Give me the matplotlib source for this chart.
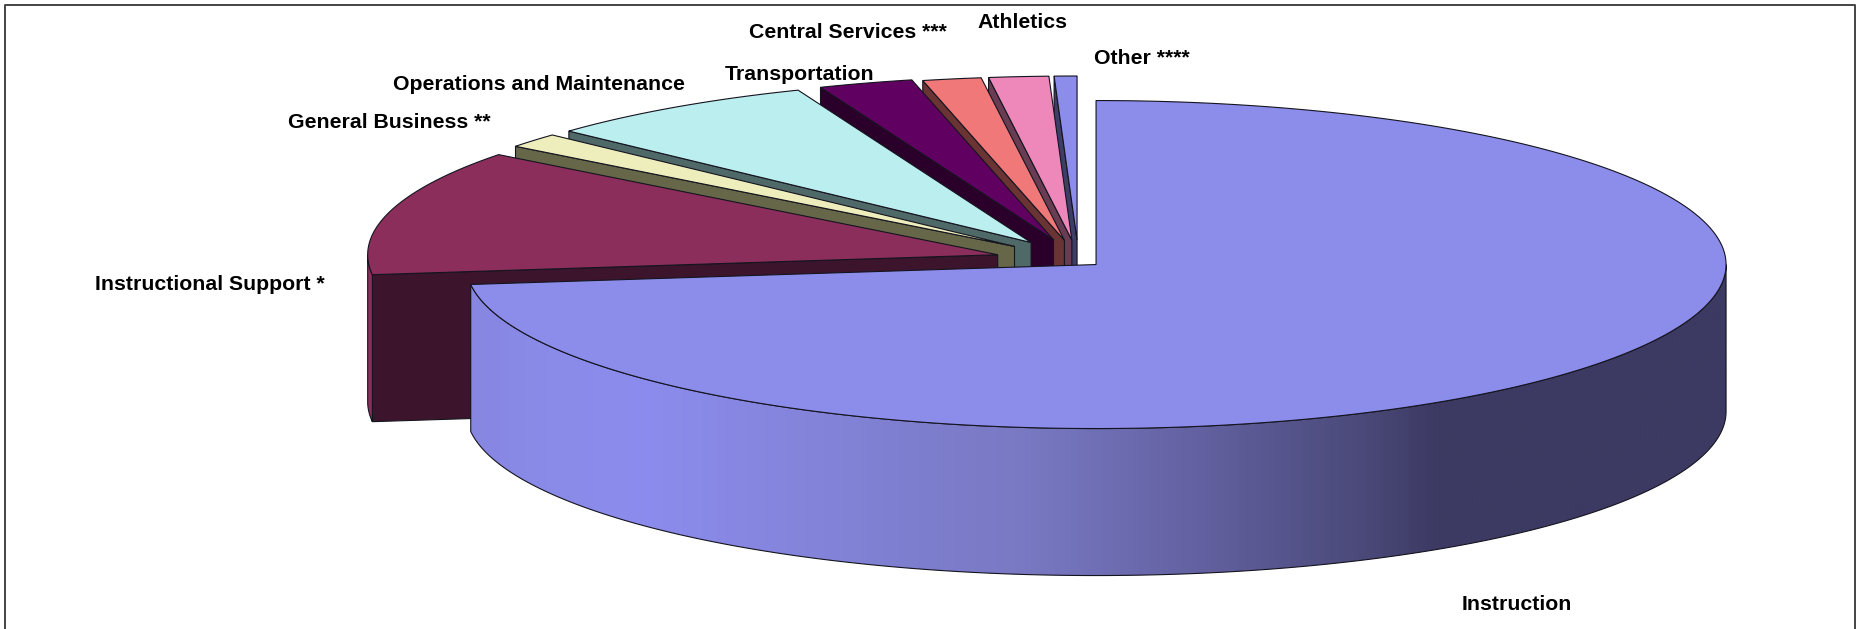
import numpy as np
import matplotlib
matplotlib.use("Agg")
import matplotlib.pyplot as plt
from matplotlib.colors import LinearSegmentedColormap
from matplotlib.patches import Polygon

plt.rcParams['font.family'] = ['Liberation Sans', 'DejaVu Sans']

# Budget shares in percent, clockwise from twelve o'clock
categories = ["Instruction", "Instructional Support *", "General Business **",
              "Operations and Maintenance", "Transportation",
              "Central Services ***", "Athletics", "Other ****"]
shares = [73.06, 12.39, 1.44, 7.08, 2.42, 1.50, 1.53, 0.58]

# Styling per slice
top_colors = ["#8c8ceb", "#8b2e5c", "#eeeebc", "#bbeeee", "#600060", "#f07878", "#ee88bb", "#8c8ceb"]
wall_colors = ["#3c3a62", "#3c142c", "#666648", "#4f6868", "#2a002a", "#6a3434", "#683c52", "#3d3d66"]
explode = [0.0372, 0.133, 0.133, 0.133, 0.133, 0.125, 0.125, 0.125]
label_x = [1462, 95, 288, 393, 725, 749, 977, 1094]
label_y = [604.5, 284, 122, 85, 74, 32.5, 22, 58]

# Projected pie geometry, in figure pixels
CX, CY = 1078.5, 260.5
RX, RY = 630.0, 164.0
DEPTH = 147.0
EDGE = "#14141f"
LW = 0.8

W, H = 1859, 629
fig = plt.figure(figsize=(W / 100, H / 100), dpi=100)
ax = fig.add_axes([0, 0, 1, 1])
ax.set_xlim(0, W)
ax.set_ylim(H, 0)
ax.axis("off")

# Chart frame, cut off by the lower edge of the page
ax.plot([5.5, 5.5, 1855, 1855], [H, 4.5, 4.5, H], color="#444444", lw=1.4, zorder=0)


def rim(cx, cy, theta):
    t = np.radians(theta)
    return cx + RX * np.sin(t), cy - RY * np.cos(t)


# Horizontal shading of the large curved face, light on the left and dark on the right
wall_cmap = LinearSegmentedColormap.from_list(
    "shade",
    [(0.0, "#8787e2"), (0.06, "#8a8ae8"), (0.135, "#8c8cee"), (0.25, "#8585dd"),
     (0.447, "#7878c2"), (0.585, "#62609f"), (0.708, "#4b4a7a"), (0.772, "#3c3a62"),
     (1.0, "#3c3a62")],
)

edges = np.concatenate([[0.0], np.cumsum(shares)]) * 3.6
z = 1
# Paint from the back of the pie to the front
for i in range(len(shares) - 1, -1, -1):
    a, b = edges[i], edges[i + 1]
    mid = np.radians((a + b) / 2)
    cx = CX + explode[i] * RX * np.sin(mid)
    cy = CY - explode[i] * RY * np.cos(mid)

    # Radial face that looks toward the viewer
    if np.sin(np.radians(a)) < -1e-6:
        ox, oy = rim(cx, cy, a)
        ax.add_patch(Polygon([(cx, cy), (ox, oy), (ox, oy + DEPTH), (cx, cy + DEPTH)],
                             closed=True, fc=wall_colors[i], ec=EDGE, lw=LW, zorder=z))
        z += 1

    # Curved outer face, only where the rim is on the near side
    lo, hi = max(a, 90.0), min(b, 270.0)
    if hi > lo:
        th = np.linspace(lo, hi, 400)
        xs, ys = rim(cx, cy, th)
        pts = np.vstack([np.column_stack([xs, ys]),
                         np.column_stack([xs[::-1], ys[::-1] + DEPTH])])
        if i == 0:
            outline = Polygon(pts, closed=True, fc="none", ec=EDGE, lw=LW, zorder=z + 1)
            clip = Polygon(pts, closed=True, fc="none", ec="none", transform=ax.transData)
            ax.add_patch(clip)
            ramp = np.linspace(0, 1, 1024)[None, :]
            im = ax.imshow(ramp, cmap=wall_cmap, extent=[xs.min(), xs.max(), H, 0],
                           aspect="auto", zorder=z)
            im.set_clip_path(clip)
            ax.add_patch(outline)
            ax.set_xlim(0, W)
            ax.set_ylim(H, 0)
            z += 2
        else:
            ax.add_patch(Polygon(pts, closed=True, fc=top_colors[i], ec=EDGE, lw=LW, zorder=z))
            z += 1

    # Top face of the slice
    th = np.linspace(a, b, 400)
    xs, ys = rim(cx, cy, th)
    pts = np.vstack([[cx, cy], np.column_stack([xs, ys])])
    ax.add_patch(Polygon(pts, closed=True, fc=top_colors[i], ec=EDGE, lw=LW, zorder=z))
    z += 1

for name, x, y in zip(categories, label_x, label_y):
    ax.text(x, y, name, ha="left", va="center", fontsize=15.3, fontweight="bold",
            color="#000000", zorder=z)

fig.savefig("out.png", dpi=100)
